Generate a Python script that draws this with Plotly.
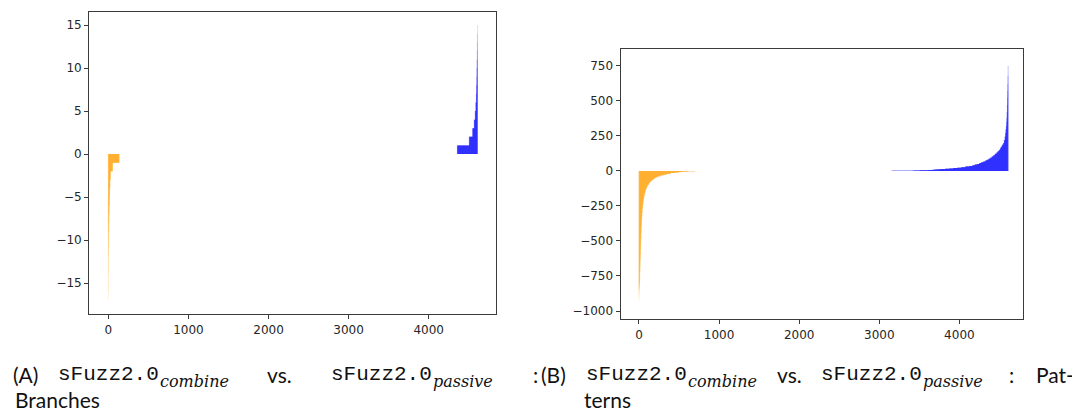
import numpy as np
import plotly.graph_objects as go

# ---------------- data (run-length tables) ----------------
# Panel A: Branches  (sorted per-contract differences; zeros omitted)
a_orange_start = 0
a_orange_values = [-17, -16, -14, -12, -11, -10, -9, -8, -7, -6, -5, -4, -3, -2, -1]
a_orange_counts = [1, 1, 1, 1, 1, 1, 2, 2, 2, 3, 3, 4, 6, 27, 82]

a_blue_start = 4357
a_blue_values = [1, 2, 3, 4, 5, 6, 7, 8, 9, 10, 11, 12, 13, 14, 15]
a_blue_counts = [149, 42, 20, 12, 8, 6, 3, 3, 2, 2, 2, 1, 1, 1, 1]

# Panel B: Patterns
b_orange_start = 0
b_orange_values = [-925, -900, -875, -850, -830, -810, -790, -760, -720, -680, -640, -600,
                   -560, -520, -480, -440, -400, -360, -330, -300, -270, -245, -220, -200,
                   -180, -160, -145, -130, -115, -100, -88, -76, -65, -55, -46, -38, -31,
                   -25, -20, -15, -11, -8, -5, -3, -2, -1]
b_orange_counts = [1, 1, 1, 2, 2, 2, 2, 1, 2, 2, 2, 2,
                   2, 2, 2, 3, 3, 3, 3, 4, 4, 5, 5, 6,
                   7, 8, 8, 10, 12, 15, 15, 20, 22, 25, 30, 35, 40,
                   40, 45, 50, 50, 55, 60, 50, 40, 40]

b_blue_start = 3155
b_blue_values = [1, 2, 3, 4, 5, 6, 7, 8, 10, 12, 14, 16, 18, 20, 23, 27, 31, 35, 40, 45,
                 50, 56, 62, 68, 74, 80, 87, 94, 102, 112, 122, 132, 140, 150, 160, 172,
                 186, 200, 221, 245, 270, 295, 320, 350, 380, 420, 470, 520, 570, 620,
                 680, 750]
b_blue_counts = [150, 120, 80, 60, 40, 30, 30, 30, 40, 40, 50, 50, 50, 50, 50, 50, 50, 40,
                 30, 30, 25, 25, 25, 25, 20, 20, 20, 20, 20, 20, 20, 15, 15, 12, 12, 15,
                 15, 10, 10, 6, 5, 5, 4, 3, 3, 3, 2, 2, 2, 2, 2, 2]

x_ticks = [0, 1000, 2000, 3000, 4000]
a_y_ticks = [-15, -10, -5, 0, 5, 10, 15]
b_y_ticks = [-1000, -750, -500, -250, 0, 250, 500, 750]

ORANGE = "rgba(255,165,0,0.12)"
BLUE = "rgba(0,0,255,0.12)"
BAR_W = 12.5  # about one screen pixel in data units


def expand(start, values, counts):
    y = np.repeat(np.array(values, dtype=float), counts)
    x = start + np.arange(len(y))
    return x, y


def label(v):
    return ("\u2212" + str(-v)) if v < 0 else str(v)


# page body has an 8px margin: work in screen pixels and shift
OFF = 8
W, H = 1080 - OFF, 411 - OFF


def XP(px):
    return (px - OFF) / W


def YP(py):
    return 1 - (py - OFF) / H


fig = go.Figure()

panels = [
    ("x", "y", (a_orange_start, a_orange_values, a_orange_counts),
     (a_blue_start, a_blue_values, a_blue_counts)),
    ("x2", "y2", (b_orange_start, b_orange_values, b_orange_counts),
     (b_blue_start, b_blue_values, b_blue_counts)),
]
for xa, ya, orng, blu in panels:
    for spec, col in ((orng, ORANGE), (blu, BLUE)):
        x, y = expand(*spec)
        fig.add_trace(go.Bar(x=x, y=y, width=BAR_W,
                             marker=dict(color=col, line=dict(width=0)),
                             xaxis=xa, yaxis=ya, showlegend=False, hoverinfo="skip"))

axis_common = dict(showline=True, mirror=True, linecolor="#3a3a3a", linewidth=1.3,
                   ticks="outside", ticklen=4, tickwidth=1, tickcolor="#3a3a3a",
                   showgrid=False, zeroline=False,
                   tickfont=dict(family="DejaVu Sans", size=12, color="#262626"))

fig.update_layout(
    width=W, height=H,
    margin=dict(l=0, r=0, t=0, b=0),
    paper_bgcolor="white", plot_bgcolor="white",
    barmode="overlay",
    xaxis=dict(domain=[XP(89.3), XP(495.7)], range=[-237, 4836], anchor="y",
               tickvals=x_ticks, ticktext=[label(v) for v in x_ticks], **axis_common),
    yaxis=dict(domain=[YP(314), YP(11.7)], range=[-18.6, 16.55], anchor="x",
               tickvals=a_y_ticks, ticktext=[label(v) for v in a_y_ticks], **axis_common),
    xaxis2=dict(domain=[XP(620.7), XP(1023)], range=[-228, 4794], anchor="y2",
                tickvals=x_ticks, ticktext=[label(v) for v in x_ticks], **axis_common),
    yaxis2=dict(domain=[YP(319), YP(49.3)], range=[-1057, 868], anchor="x2",
                tickvals=b_y_ticks, ticktext=[label(v) for v in b_y_ticks], **axis_common),
)

# ---------------- captions ----------------
SANS = "Lato"
MONO = "Liberation Mono"
SERIF = "DejaVu Serif"
line1, line2, subline = 374, 399, 381

caption_parts = [
    # (text, x_px, y_px, family, size, italic)
    ("(A)", 12, line1, SANS, 21, False),
    ("sFuzz2.0", 57, line1, MONO, 21, False),
    ("combine", 159, subline, SERIF, 16, True),
    ("vs.", 266, line1, SANS, 21, False),
    ("sFuzz2.0", 330, line1, MONO, 21, False),
    ("passive", 432, subline, SERIF, 16, True),
    (":", 532, line1, SANS, 21, False),
    ("(B)", 540, line1, SANS, 21, False),
    ("sFuzz2.0", 585, line1, MONO, 21, False),
    ("combine", 687, subline, SERIF, 16, True),
    ("vs.", 776, line1, SANS, 21, False),
    ("sFuzz2.0", 820, line1, MONO, 21, False),
    ("passive", 922, subline, SERIF, 16, True),
    (":", 1008, line1, SANS, 21, False),
    ("Pat-", 1035, line1, SANS, 21, False),
    ("Branches", 14, line2, SANS, 21, False),
    ("terns", 583, line2, SANS, 21, False),
]
for text, xp, yp, fam, size, ital in caption_parts:
    fig.add_annotation(text=f"<i>{text}</i>" if ital else text,
                       x=XP(xp), y=YP(yp), xref="paper", yref="paper",
                       xanchor="left", yanchor="middle", showarrow=False, borderpad=0,
                       font=dict(family=fam, size=size, color="#111111"))

fig.write_html("out.html")
